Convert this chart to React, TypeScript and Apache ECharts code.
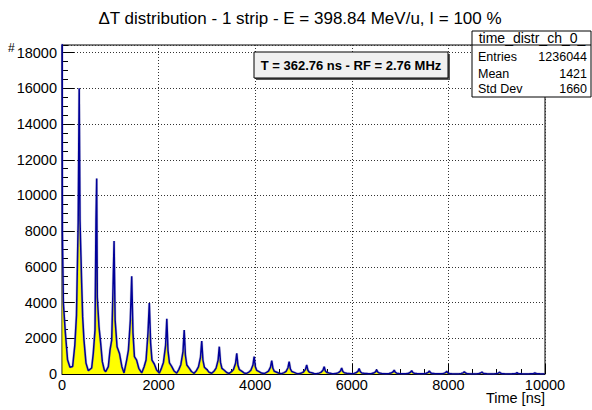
import React, { useEffect, useRef } from "react";
import * as echarts from "echarts";

// Time axis [ns] and counts
const blueLine: [number, number][] = [
  [0, 26000], [8, 8000], [28, 4000], [70, 2300], [115, 800], [165, 380], [220, 420], [265, 1600], [300, 3300], [335, 8500], [356, 16000], [373, 8600], [407, 5100], [428, 3200], [455, 1900], [497, 610], [545, 185],
  [614, 335], [648, 1170], [683, 2460], [704, 8600], [718, 10950], [731, 4300], [766, 2640], [801, 1715], [835, 690], [876, 224], [904, 130],
  [959, 410], [994, 1340], [1029, 1900], [1052, 4300], [1078, 7450], [1100, 3020], [1140, 1530], [1190, 1155], [1240, 410], [1284, 60],
  [1339, 780], [1375, 1340], [1415, 3020], [1443, 5480], [1470, 2290], [1500, 970], [1545, 780], [1590, 320], [1650, 60],
  [1700, 410], [1740, 780], [1780, 2290], [1808, 3970], [1835, 1730], [1863, 780], [1911, 560], [1959, 220], [2014, 50],
  [2060, 330], [2100, 650], [2145, 1600], [2170, 3090], [2195, 1300], [2225, 620], [2270, 430], [2320, 170], [2375, 50],
  [2420, 260], [2460, 520], [2505, 1250], [2530, 2460], [2555, 1050], [2585, 500], [2630, 340], [2680, 140], [2735, 40],
  [2785, 200], [2825, 400], [2868, 950], [2893, 1845], [2918, 780], [2948, 380], [2995, 260], [3045, 100], [3100, 40],
  [3150, 170], [3190, 330], [3232, 780], [3257, 1530], [3282, 650], [3312, 310], [3360, 210], [3410, 80], [3460, 30],
  [3510, 130], [3550, 250], [3593, 600], [3618, 1155], [3643, 490], [3673, 240], [3720, 160], [3770, 60], [3820, 30],
  [3870, 110], [3910, 210], [3953, 500], [3978, 970], [4003, 410], [4033, 200], [4080, 130], [4130, 50], [4185, 25],
  [4235, 90], [4275, 160], [4317, 380], [4342, 745], [4367, 320], [4397, 150], [4445, 100], [4495, 40], [4545, 20],
  [4600, 80], [4640, 150], [4678, 350], [4703, 690], [4728, 290], [4758, 140], [4805, 90], [4855, 35], [4905, 20],
  [4960, 60], [5000, 110], [5041, 260], [5066, 503], [5091, 210], [5121, 100], [5170, 70], [5220, 30], [5270, 15],
  [5320, 50], [5360, 90], [5403, 210], [5428, 410], [5453, 170], [5483, 85], [5530, 55], [5580, 25], [5630, 15],
  [5685, 40], [5725, 75], [5765, 170], [5790, 335], [5815, 140], [5845, 70], [5895, 45], [5990, 15],
  [6045, 35], [6085, 65], [6127, 150], [6152, 300], [6177, 125], [6207, 60], [6255, 40], [6350, 12],
  [6410, 30], [6450, 55], [6490, 120], [6515, 240], [6540, 100], [6570, 50], [6620, 35], [6710, 10],
  [6770, 28], [6810, 50], [6852, 110], [6877, 220], [6902, 90], [6932, 45], [6980, 30], [7075, 10],
  [7135, 25], [7175, 45], [7215, 95], [7240, 185], [7265, 75], [7295, 40], [7345, 25], [7440, 8],
  [7500, 22], [7540, 40], [7580, 85], [7605, 170], [7630, 70], [7660, 35], [7710, 22], [7800, 8],
  [7860, 20], [7900, 35], [7940, 75], [7965, 150], [7990, 60], [8020, 30], [8070, 20], [8165, 6],
  [8225, 18], [8265, 30], [8305, 65], [8330, 130], [8355, 52], [8385, 26], [8435, 18], [8530, 5],
  [8590, 15], [8630, 26], [8670, 55], [8695, 110], [8720, 45], [8750, 22], [8800, 15], [8890, 5],
  [8955, 14], [8995, 24], [9035, 50], [9060, 100], [9085, 40], [9115, 20], [9165, 13], [9255, 4],
  [9315, 10], [9355, 18], [9395, 35], [9420, 70], [9445, 28], [9475, 14], [9525, 10], [9620, 3],
  [9680, 9], [9720, 15], [9765, 30], [9790, 60], [9815, 25], [9845, 12], [9895, 8], [9990, 3], [10000, 3],
];

const yellowFill: [number, number][] = [
  [0, 8200], [8, 7000], [28, 4000], [70, 2300], [115, 800], [165, 380], [220, 420], [265, 1600], [300, 3300], [335, 7500], [356, 10800], [373, 7000], [407, 5100], [428, 3200], [455, 1900], [497, 610], [545, 185],
  [614, 335], [648, 1170], [683, 2460], [704, 6000], [718, 7800], [731, 4300], [766, 2640], [801, 1715], [835, 690], [876, 224], [904, 130],
  [959, 410], [994, 1340], [1029, 1900], [1052, 3800], [1078, 4900], [1100, 3020], [1140, 1530], [1190, 1155], [1240, 410], [1284, 60],
  [1339, 780], [1375, 1340], [1415, 2800], [1443, 3200], [1470, 2290], [1500, 970], [1545, 780], [1590, 320], [1650, 60],
  [1700, 410], [1740, 780], [1780, 2100], [1808, 2460], [1835, 1730], [1863, 780], [1911, 560], [1959, 220], [2014, 50],
  [2060, 330], [2100, 650], [2145, 1500], [2170, 1800], [2195, 1300], [2225, 620], [2270, 430], [2320, 170], [2375, 50],
  [2420, 260], [2460, 520], [2505, 1250], [2530, 1450], [2555, 1050], [2585, 500], [2630, 340], [2680, 140], [2735, 40],
  [2785, 200], [2825, 400], [2868, 950], [2893, 1100], [2918, 780], [2948, 380], [2995, 260], [3045, 100], [3100, 40],
  [3150, 170], [3190, 330], [3232, 780], [3257, 900], [3282, 650], [3312, 310], [3360, 210], [3410, 80], [3460, 30],
  [3510, 130], [3550, 250], [3593, 600], [3618, 700], [3643, 490], [3673, 240], [3720, 160], [3770, 60], [3820, 30],
  [3870, 110], [3910, 210], [3953, 500], [3978, 580], [4003, 410], [4033, 200], [4080, 130], [4130, 50], [4185, 25],
  [4235, 90], [4275, 160], [4317, 380], [4342, 450], [4367, 320], [4397, 150], [4445, 100], [4495, 40], [4545, 20],
  [4600, 80], [4640, 150], [4678, 350], [4703, 420], [4728, 290], [4758, 140], [4805, 90], [4855, 35], [4905, 20],
  [4960, 60], [5000, 110], [5041, 260], [5066, 300], [5091, 210], [5121, 100], [5170, 70], [5220, 30], [5270, 15],
  [5320, 50], [5360, 90], [5403, 210], [5428, 250], [5453, 170], [5483, 85], [5530, 55], [5580, 25], [5630, 15],
  [5685, 40], [5725, 75], [5765, 170], [5790, 200], [5815, 140], [5845, 70], [5895, 45], [5990, 15],
  [6045, 35], [6085, 65], [6127, 150], [6152, 180], [6177, 125], [6207, 60], [6255, 40], [6350, 12],
  [6410, 30], [6450, 55], [6490, 120], [6515, 145], [6540, 100], [6570, 50], [6620, 35], [6710, 10],
  [6770, 28], [6810, 50], [6852, 110], [6877, 130], [6902, 90], [6932, 45], [6980, 30], [7075, 10],
  [7135, 25], [7175, 45], [7215, 95], [7240, 110], [7265, 75], [7295, 40], [7345, 25], [7440, 8],
  [7500, 22], [7540, 40], [7580, 85], [7605, 100], [7630, 70], [7660, 35], [7710, 22], [7800, 8],
  [7860, 20], [7900, 35], [7940, 75], [7965, 90], [7990, 60], [8020, 30], [8070, 20], [8165, 6],
  [8225, 18], [8265, 30], [8305, 65], [8330, 78], [8355, 52], [8385, 26], [8435, 18], [8530, 5],
  [8590, 15], [8630, 26], [8670, 55], [8695, 66], [8720, 45], [8750, 22], [8800, 15], [8890, 5],
  [8955, 14], [8995, 24], [9035, 50], [9060, 60], [9085, 40], [9115, 20], [9165, 13], [9255, 4],
  [9315, 10], [9355, 18], [9395, 35], [9420, 42], [9445, 28], [9475, 14], [9525, 10], [9620, 3],
  [9680, 9], [9720, 15], [9765, 30], [9790, 36], [9815, 25], [9845, 12], [9895, 8], [9990, 3], [10000, 3],
];

const chartTitle = "\u0394T distribution - 1 strip - E = 398.84 MeV/u, I = 100 %";
const paveText = "T = 362.76 ns - RF = 2.76 MHz";
const statsName = "time_distr_ch_0_";
const statsLabels = ["Entries", "Mean", "Std Dev"];
const statsValues = ["1236044", "1421", "1660"];

const FONT = "'Liberation Sans', Arial, Helvetica, sans-serif";

export default function App() {
  const ref = useRef<HTMLDivElement>(null);
  useEffect(() => {
    if (!ref.current) return;
    const chart = echarts.init(ref.current, null, { renderer: "svg" });
    const gridTop = 45, gridLeft = 62, gridRight = 545, gridBottom = 374;
    const statsRows: any[] = [];
    const rowY = [57, 73.5, 89];
    statsLabels.forEach((l, i) => {
      statsRows.push({
        type: "text", z: 20, x: 478, y: rowY[i],
        style: { text: l, font: `12.5px ${FONT}`, fill: "#000", align: "left", verticalAlign: "middle" },
      });
      statsRows.push({
        type: "text", z: 20, x: 587, y: rowY[i],
        style: { text: statsValues[i], font: `12.5px ${FONT}`, fill: "#000", align: "right", verticalAlign: "middle" },
      });
    });
    const fmt = (v: number) => String(v);
    chart.setOption({
      animation: false,
      backgroundColor: "#fff",
      textStyle: { fontFamily: FONT },
      grid: {
        left: gridLeft, top: gridTop, right: 592 - gridRight, bottom: 410 - gridBottom,
        show: true, borderColor: "#000", borderWidth: 1, backgroundColor: "#fff",
      },
      xAxis: {
        type: "value", min: 0, max: 10000, interval: 2000,
        axisLine: { show: true, lineStyle: { color: "#000", width: 1 } },
        axisTick: { show: true, inside: true, length: 10, lineStyle: { color: "#000" } },
        minorTick: { show: true, splitNumber: 4, length: 5, lineStyle: { color: "#000" } },
        axisLabel: { color: "#000", fontSize: 14.5, fontFamily: FONT, margin: 3, formatter: fmt },
        splitLine: { show: true, lineStyle: { color: "#333", type: [1, 2], width: 1 } },
      },
      yAxis: [
        {
          type: "value", min: 0, max: 18430, interval: 2000,
          axisLine: { show: true, lineStyle: { color: "#000", width: 1 } },
          axisTick: { show: true, inside: true, length: 12, lineStyle: { color: "#000" } },
          axisLabel: { color: "#000", fontSize: 14.5, fontFamily: FONT, margin: 5, showMaxLabel: false, formatter: fmt },
          splitLine: { show: true, lineStyle: { color: "#333", type: [1, 2], width: 1 } },
        },
        {
          type: "value", min: 0, max: 18430, interval: 500, position: "left",
          axisLine: { show: false },
          axisTick: { show: true, inside: true, length: 6, lineStyle: { color: "#000" } },
          axisLabel: { show: false },
          splitLine: { show: false },
        },
      ],
      series: [
        {
          type: "line", data: yellowFill, symbol: "none", z: 2,
          lineStyle: { width: 0 }, areaStyle: { color: "#ffff00", opacity: 1 },
        },
        {
          type: "line", data: blueLine, symbol: "none", z: 3,
          lineStyle: { width: 2.6, color: "rgba(100,100,160,0.35)" },
        },
        {
          type: "line", data: blueLine, symbol: "none", z: 4,
          lineStyle: { width: 1.5, color: "#000099" },
        },
      ],
      graphic: [
        {
          type: "text", z: 20, x: 300, y: 18,
          style: { text: chartTitle, font: `17px ${FONT}`, fill: "#000", align: "center", verticalAlign: "middle" },
        },
        {
          type: "text", z: 20, x: 8, y: 48,
          style: { text: "#", font: `12px ${FONT}`, fill: "#000", verticalAlign: "middle" },
        },
        {
          type: "text", z: 20, x: 545, y: 398,
          style: { text: "Time [ns]", font: `14.5px ${FONT}`, fill: "#000", align: "right", verticalAlign: "middle" },
        },
        {
          type: "rect", z: 15, shape: { x: 256, y: 54, width: 194, height: 26 },
          style: { fill: "#555", stroke: "none" },
        },
        {
          type: "rect", z: 16, shape: { x: 254, y: 52, width: 194, height: 26 },
          style: { fill: "#f0f0f0", stroke: "#000", lineWidth: 1 },
        },
        {
          type: "text", z: 20, x: 351, y: 65,
          style: { text: paveText, font: `bold 13px ${FONT}`, fill: "#000", align: "center", verticalAlign: "middle" },
        },
        {
          type: "rect", z: 16, shape: { x: 472, y: 31, width: 119, height: 66 },
          style: { fill: "#fff", stroke: "#000", lineWidth: 1 },
        },
        {
          type: "line", z: 17, shape: { x1: 472, y1: 45, x2: 591, y2: 45 },
          style: { stroke: "#000", lineWidth: 1 },
        },
        {
          type: "text", z: 20, x: 532, y: 38,
          style: { text: statsName, font: `14px ${FONT}`, fill: "#000", align: "center", verticalAlign: "middle" },
        },
        ...statsRows,
      ],
    });
    return () => chart.dispose();
  }, []);
  return (
    <div
      ref={ref}
      style={{ position: "fixed", left: 0, top: 0, width: 592, height: 410 }}
    />
  );
}
